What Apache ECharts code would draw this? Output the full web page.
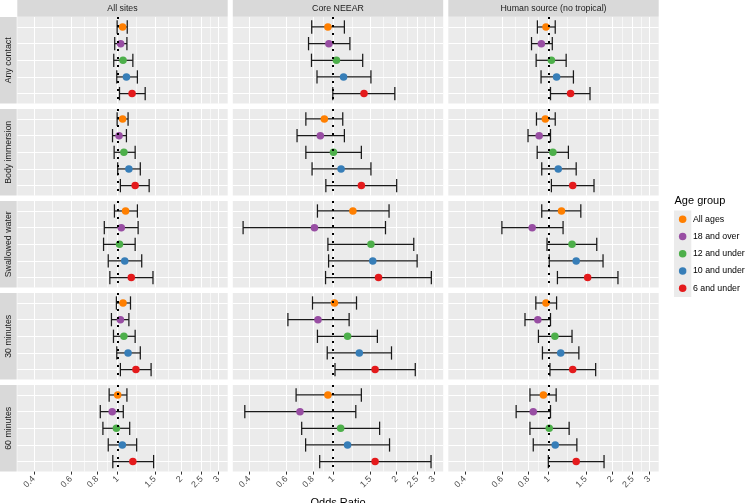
<!DOCTYPE html>
<html><head><meta charset="utf-8">
<script src="https://cdn.jsdelivr.net/npm/echarts@6/dist/echarts.min.js"></script>
<style>html,body{margin:0;padding:0;background:#fff}#c{width:750px;height:503px}</style>
</head><body><div id="c"></div>
<script>
// ---------- data ----------
const ageGroups = ['All ages', '18 and over', '12 and under', '10 and under', '6 and under'];
const ageColors = ['#FF7F00', '#984EA3', '#4DAF4A', '#377EB8', '#E41A1C'];
const facetColumns = ['All sites', 'Core NEEAR', 'Human source (no tropical)'];
const facetRows = ['Any contact', 'Body immersion', 'Swallowed water', '30 minutes', '60 minutes'];
const oddsTicks = [0.4, 0.6, 0.8, 1, 1.5, 2, 2.5, 3];

// rows = exposures (facetRows), columns = age groups (ageGroups)
const allSitesOR = [
  [1.055, 1.033, 1.06, 1.10, 1.17],
  [1.055, 1.015, 1.07, 1.13, 1.21],
  [1.09, 1.04, 1.02, 1.08, 1.16],
  [1.06, 1.03, 1.07, 1.12, 1.22],
  [1.00, 0.942, 0.986, 1.052, 1.18]
];
const allSitesLo = [
  [0.994, 0.968, 0.958, 0.99, 1.02],
  [0.994, 0.945, 0.962, 1.0, 1.03],
  [0.965, 0.864, 0.857, 0.902, 0.918],
  [0.986, 0.934, 0.955, 0.99, 1.03],
  [0.911, 0.827, 0.851, 0.902, 0.948]
];
const allSitesHi = [
  [1.11, 1.106, 1.18, 1.24, 1.35],
  [1.12, 1.10, 1.21, 1.28, 1.41],
  [1.24, 1.25, 1.21, 1.30, 1.47],
  [1.15, 1.13, 1.21, 1.28, 1.44],
  [1.106, 1.063, 1.14, 1.23, 1.48]
];
const coreOR = [
  [0.944, 0.954, 1.036, 1.12, 1.40],
  [0.908, 0.869, 1.003, 1.09, 1.36],
  [1.24, 0.815, 1.51, 1.54, 1.64],
  [1.014, 0.847, 1.17, 1.33, 1.58],
  [0.944, 0.696, 1.085, 1.17, 1.58]
];
const coreLo = [
  [0.791, 0.764, 0.789, 0.838, 0.996],
  [0.742, 0.674, 0.742, 0.794, 0.923],
  [0.842, 0.374, 0.944, 0.951, 0.92],
  [0.798, 0.61, 0.842, 0.937, 1.02],
  [0.667, 0.381, 0.709, 0.740, 0.863]
];
const coreHi = [
  [1.13, 1.20, 1.38, 1.51, 1.96],
  [1.11, 1.13, 1.36, 1.51, 2.0],
  [1.84, 1.77, 2.41, 2.50, 2.92],
  [1.29, 1.19, 1.62, 1.89, 2.45],
  [1.36, 1.28, 1.66, 1.85, 2.91]
];
const humanOR = [
  [0.971, 0.923, 1.03, 1.09, 1.27],
  [0.964, 0.901, 1.047, 1.11, 1.30],
  [1.15, 0.835, 1.29, 1.35, 1.53],
  [0.971, 0.888, 1.07, 1.14, 1.30],
  [0.944, 0.845, 1.006, 1.074, 1.35]
];
const humanLo = [
  [0.884, 0.829, 0.872, 0.92, 1.02],
  [0.875, 0.798, 0.882, 0.927, 1.03],
  [0.927, 0.60, 0.982, 1.006, 1.10],
  [0.869, 0.772, 0.894, 0.934, 1.014],
  [0.815, 0.701, 0.815, 0.845, 0.996]
];
const humanHi = [
  [1.074, 1.04, 1.21, 1.31, 1.57],
  [1.074, 1.02, 1.24, 1.35, 1.64],
  [1.42, 1.17, 1.69, 1.81, 2.13],
  [1.09, 1.02, 1.29, 1.39, 1.67],
  [1.085, 1.02, 1.25, 1.36, 1.83]
];

// ---------- layout / style ----------
const FONT = '"Liberation Sans", Arial, Helvetica, sans-serif';
const panelData = [
  { or: allSitesOR, lo: allSitesLo, hi: allSitesHi },
  { or: coreOR, lo: coreLo, hi: coreHi },
  { or: humanOR, lo: humanLo, hi: humanHi }
];
const lnMin = -1.096, lnMax = 1.201;
const majorLn = oddsTicks.map(Math.log);
const minorLn = majorLn.slice(1).map((v, i) => (v + majorLn[i]) / 2);
const colLeft = [17.3, 232.8, 448.3], colW = 210.4;
const rowTop0 = 17, rowStep = 92.0, rowH = 86.6;

function tickLabel(v) {
  let best = oddsTicks[0], bd = Infinity;
  oddsTicks.forEach(t => { const d = Math.abs(Math.log(t) - v); if (d < bd) { bd = d; best = t; } });
  return String(best);
}

const grids = [], xAxes = [], yAxes = [], series = [], graphics = [];

for (let r = 0; r < facetRows.length; r++) {
  for (let c = 0; c < facetColumns.length; c++) {
    const g = r * 3 + c;
    const top = rowTop0 + r * rowStep;
    grids.push({
      left: colLeft[c], top: top, width: colW, height: rowH,
      show: true, backgroundColor: '#ebebeb', borderWidth: 0,
      containLabel: false, outerBoundsMode: 'none'
    });
    const bottomRow = r === facetRows.length - 1;
    xAxes.push({
      type: 'value', gridIndex: g, min: lnMin, max: lnMax, position: 'bottom',
      axisLine: { show: false },
      axisTick: { show: bottomRow, length: 3, lineStyle: { color: '#333', width: 1 }, customValues: majorLn },
      axisLabel: {
        show: bottomRow, customValues: majorLn, formatter: tickLabel, rotate: 45,
        fontSize: 8.8, color: '#4d4d4d', margin: 6, fontFamily: FONT
      },
      splitLine: { show: true, lineStyle: { color: '#ffffff', width: 1.1 } },
      name: (bottomRow && c === 1) ? 'Odds Ratio' : '',
      nameLocation: 'middle', nameGap: 26,
      nameTextStyle: { fontSize: 11, color: '#000', fontFamily: FONT }
    });
    xAxes.push({
      type: 'value', gridIndex: g, min: lnMin, max: lnMax, position: 'top',
      axisLine: { show: false },
      axisTick: { show: false, customValues: minorLn },
      axisLabel: { show: false, customValues: minorLn },
      splitLine: { show: true, lineStyle: { color: '#ffffff', width: 0.6 } }
    });
    yAxes.push({
      type: 'value', gridIndex: g, min: 0.4, max: 5.6, inverse: true,
      axisLine: { show: false },
      axisTick: { show: false, customValues: [1, 2, 3, 4, 5] },
      axisLabel: { show: false, customValues: [1, 2, 3, 4, 5] },
      splitLine: { show: true, lineStyle: { color: '#ffffff', width: 1.1 } }
    });

    const pd = panelData[c];
    const ebData = ageGroups.map((a, k) => [Math.log(pd.lo[r][k]), Math.log(pd.hi[r][k]), k + 1]);
    series.push({
      type: 'custom', xAxisIndex: 2 * g, yAxisIndex: g, silent: true, z: 2,
      encode: { x: [0, 1], y: 2 },
      data: ebData,
      renderItem: function (params, api) {
        const y = api.value(2);
        const p1 = api.coord([api.value(0), y]);
        const p2 = api.coord([api.value(1), y]);
        const h = Math.abs(api.size([0, 0.4])[1]);
        const st = { stroke: '#1a1a1a', lineWidth: 1.25, fill: null };
        return {
          type: 'group', children: [
            { type: 'line', shape: { x1: p1[0], y1: p1[1], x2: p2[0], y2: p2[1] }, style: st },
            { type: 'line', shape: { x1: p1[0], y1: p1[1] - h, x2: p1[0], y2: p1[1] + h }, style: st },
            { type: 'line', shape: { x1: p2[0], y1: p2[1] - h, x2: p2[0], y2: p2[1] + h }, style: st }
          ]
        };
      },
      markLine: {
        silent: true, symbol: ['none', 'none'], label: { show: false }, animation: false,
        lineStyle: { color: '#000', type: [2, 6], width: 2, cap: 'butt' },
        emphasis: { disabled: true },
        data: [{ xAxis: 0 }]
      }
    });
    ageGroups.forEach((a, k) => {
      series.push({
        type: 'scatter', name: a, xAxisIndex: 2 * g, yAxisIndex: g, z: 3, silent: true,
        symbol: 'circle', symbolSize: 7.5,
        itemStyle: { color: ageColors[k], opacity: 1 },
        data: [[Math.log(pd.or[r][k]), k + 1]]
      });
    });
  }
}

// strips
facetColumns.forEach((name, c) => {
  graphics.push({ type: 'rect', shape: { x: colLeft[c], y: 0, width: colW, height: 16.7 }, style: { fill: '#d9d9d9' }, silent: true });
  graphics.push({ type: 'text', x: colLeft[c] + colW / 2, y: 8.6, silent: true,
    style: { text: name, fill: '#1a1a1a', fontSize: 8.8, fontFamily: FONT, textAlign: 'center', textVerticalAlign: 'middle' } });
});
facetRows.forEach((name, r) => {
  const top = rowTop0 + r * rowStep;
  graphics.push({ type: 'rect', shape: { x: 0, y: top, width: 16.7, height: rowH }, style: { fill: '#d9d9d9' }, silent: true });
  graphics.push({ type: 'text', x: 8.6, y: top + rowH / 2, rotation: Math.PI / 2, silent: true,
    style: { text: name, fill: '#1a1a1a', fontSize: 8.8, fontFamily: FONT, textAlign: 'center', textVerticalAlign: 'middle' } });
});
// legend title + key background
graphics.push({ type: 'text', x: 674.5, y: 200.5, silent: true,
  style: { text: 'Age group', fill: '#000', fontSize: 11, fontFamily: FONT, textAlign: 'left', textVerticalAlign: 'middle' } });
graphics.push({ type: 'rect', shape: { x: 674, y: 210.5, width: 17.3, height: 86.5 }, style: { fill: '#ebebeb' }, silent: true });

const chart = echarts.init(document.getElementById('c'), null, { renderer: 'canvas' });
chart.setOption({
  animation: false,
  backgroundColor: '#ffffff',
  grid: grids,
  xAxis: xAxes,
  yAxis: yAxes,
  series: series,
  graphic: { elements: graphics },
  legend: {
    orient: 'vertical', left: 678.9, top: 210.5, padding: 0,
    itemWidth: 7.5, itemHeight: 7.5, itemGap: 0, icon: 'circle', selectedMode: false,
    data: ageGroups,
    textStyle: { fontSize: 8.8, color: '#000', lineHeight: 17.3, padding: [0, 0, 0, 1.5], fontFamily: FONT }
  }
});
</script>
</body></html>
